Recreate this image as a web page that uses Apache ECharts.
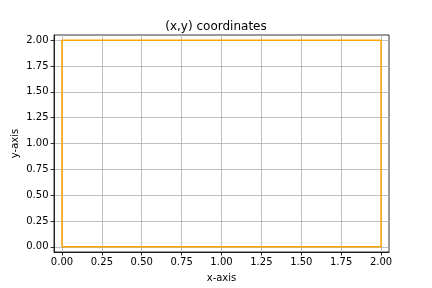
<!DOCTYPE html>
<html><head><meta charset="utf-8">
<script src="https://cdn.jsdelivr.net/npm/echarts@6/dist/echarts.min.js"></script>
<style>html,body{margin:0;padding:0;background:#fff}#c{width:432px;height:288px}</style>
</head><body><div id="c"></div>
<script>
const xs = [0, 2, 2, 0, 0];
const ys = [0, 0, 2, 2, 0];
const xTicks = [0, 0.25, 0.5, 0.75, 1, 1.25, 1.5, 1.75, 2];
const yTicks = [0, 0.25, 0.5, 0.75, 1, 1.25, 1.5, 1.75, 2];
const font = 'DejaVu Sans';
const chart = echarts.init(document.getElementById('c'), null, {renderer: 'canvas'});
function axis(ticks, name, isY) {
  return {
    type: 'value', min: -0.05, max: 2.05,
    name: name, nameLocation: 'middle', nameGap: isY ? 34 : 21, nameMoveOverlap: false,
    nameTextStyle: {fontFamily: font, fontSize: 10, color: '#000'},
    axisLine: {show: true, onZero: false, lineStyle: {color: '#000', width: 0.8}},
    axisTick: {show: true, length: 3.5, lineStyle: {color: '#000', width: 0.8}, customValues: ticks},
    axisLabel: {fontFamily: font, fontSize: 10, color: '#000', margin: 5.5,
      customValues: ticks, formatter: v => v.toFixed(2)},
    splitLine: {show: true, lineStyle: {color: '#b0b0b0', width: 0.8}}
  };
}
chart.setOption({
  animation: false,
  title: {text: '(x,y) coordinates', left: 'center', top: 16,
    textStyle: {fontFamily: font, fontSize: 12, fontWeight: 'normal', color: '#000'}},
  grid: {left: 54, right: 43, top: 35, bottom: 36, show: true, borderColor: '#000', borderWidth: 0.8,
    containLabel: false, outerBoundsMode: 'none'},
  xAxis: axis(xTicks, 'x-axis', false),
  yAxis: axis(yTicks, 'y-axis', true),
  series: [{
    type: 'line', data: xs.map((x, i) => [x, ys[i]]), showSymbol: false,
    lineStyle: {color: '#ffa500', width: 1.5}, itemStyle: {color: '#ffa500'}
  }]
});
</script></body></html>
